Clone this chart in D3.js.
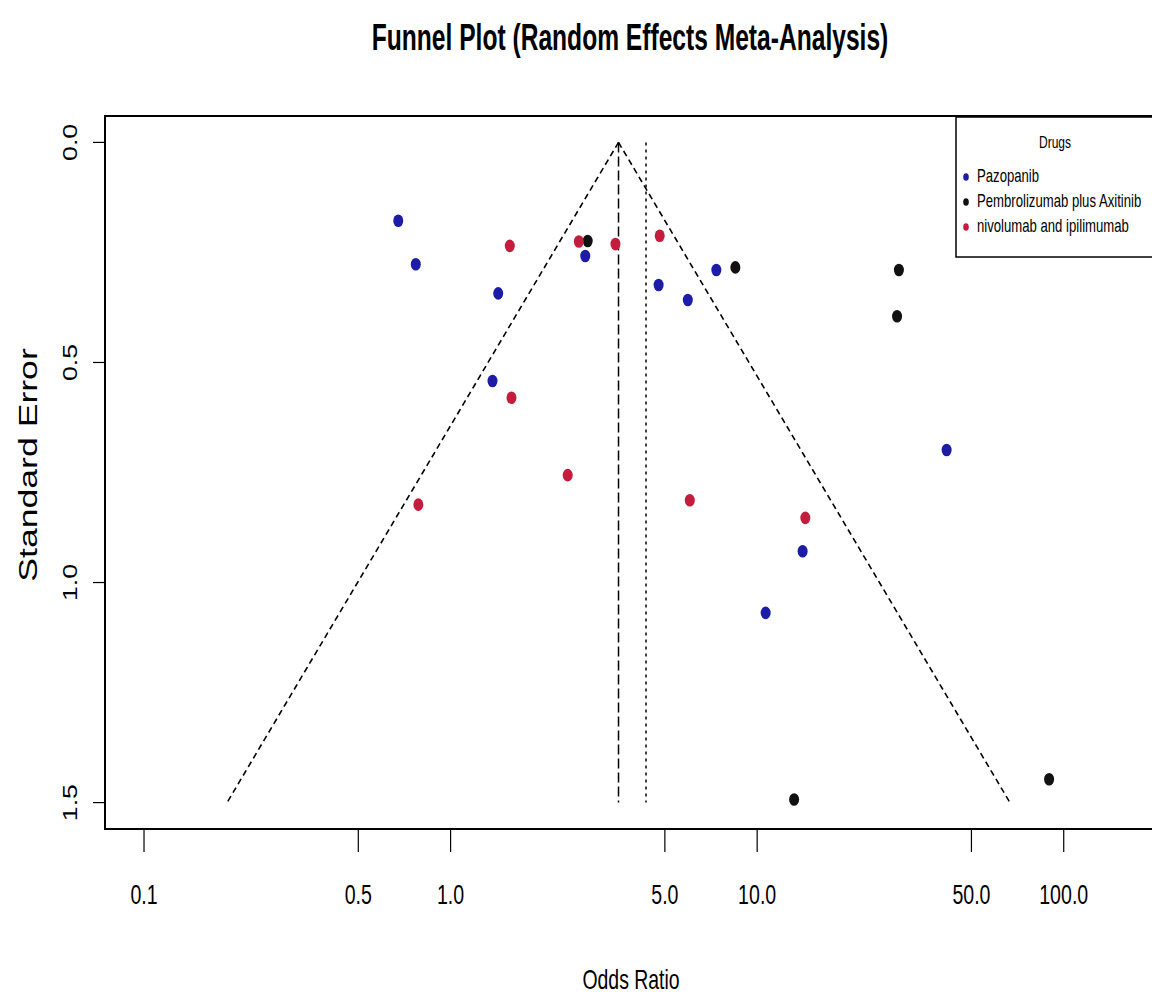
<!DOCTYPE html>
<html>
<head>
<meta charset="utf-8">
<script src="https://cdn.jsdelivr.net/npm/d3@7"></script>
<style>
  html, body { margin: 0; padding: 0; background: #fff; }
  svg { display: block; }
  text { font-family: "Liberation Sans", Arial, sans-serif; fill: #000; }
</style>
</head>
<body>
<svg id="chart" width="1152" height="998"></svg>
<script>
// ---- Data ----
const categories = ["Pazopanib", "Pembrolizumab plus Axitinib", "nivolumab and ipilimumab"];
const colors = ["#1c1ca6", "#111111", "#c41c3c"];

const pazopanibOR = [0.675, 0.77, 1.43, 2.75, 4.77, 5.94, 7.36, 1.37, 14.07, 10.66, 41.5];
const pazopanibSE = [0.178, 0.277, 0.343, 0.258, 0.324, 0.358, 0.290, 0.542, 0.929, 1.069, 0.699];

const pembroOR = [2.80, 8.49, 29.0, 28.6, 13.2, 89.6];
const pembroSE = [0.224, 0.284, 0.290, 0.395, 1.493, 1.447];

const nivoOR = [1.56, 2.62, 3.45, 4.81, 1.58, 2.41, 0.785, 6.03, 14.36];
const nivoSE = [0.235, 0.225, 0.231, 0.212, 0.580, 0.756, 0.823, 0.813, 0.853];

const summaryOR = 3.53;     // random-effects estimate (dashed line / funnel apex)
const refOR = 4.34;         // dotted reference line
const seMax = 1.5;

const xTicks = [0.1, 0.5, 1, 5, 10, 50, 100];
const xTickLabels = ["0.1", "0.5", "1.0", "5.0", "10.0", "50.0", "100.0"];
const yTicks = [0, 0.5, 1, 1.5];
const yTickLabels = ["0.0", "0.5", "1.0", "1.5"];

const title = "Funnel Plot (Random Effects Meta-Analysis)";
const xLabel = "Odds Ratio";
const yLabel = "Standard Error";
const legendTitle = "Drugs";

// ---- Build ----
const groups = [
  { name: categories[0], or: pazopanibOR, se: pazopanibSE, color: colors[0] },
  { name: categories[1], or: pembroOR, se: pembroSE, color: colors[1] },
  { name: categories[2], or: nivoOR, se: nivoSE, color: colors[2] }
];
const points = [];
groups.forEach(g => g.or.forEach((v, i) => points.push({ or: v, se: g.se[i], color: g.color })));

const svg = d3.select("#chart");
const L = 105, R = 1154, T = 116, B = 829;
const SX = 0.73; // horizontal squeeze of text (picture is stretched vertically)

const x = d3.scaleLog().domain([0.0746, 197]).range([L, R]);
const y = d3.scaleLinear().domain([-0.06, 1.56]).range([T, B]);

function hText(txt, px, py, size, opts = {}) {
  const sx = opts.sx || SX;
  return svg.append("text")
    .attr("transform", `translate(${px},${py}) scale(${sx},1)`)
    .attr("text-anchor", opts.anchor || "middle")
    .attr("font-size", size)
    .attr("font-weight", opts.bold ? "bold" : "normal")
    .text(txt);
}
function vText(txt, px, py, size) {
  return svg.append("text")
    .attr("transform", `translate(${px},${py}) rotate(-90) scale(${1 / SX},1)`)
    .attr("text-anchor", "middle")
    .attr("font-size", size)
    .text(txt);
}

// Title
hText(title, 630, 50, 37, { bold: true, sx: 0.665 });

// Funnel lines
const z = 1.96;
const lo = summaryOR * Math.exp(-z * seMax);
const hi = summaryOR * Math.exp(z * seMax);
svg.append("line")
  .attr("x1", x(summaryOR)).attr("y1", y(0)).attr("x2", x(lo)).attr("y2", y(seMax))
  .attr("stroke", "#000").attr("stroke-width", 1.6).attr("stroke-dasharray", "6,4");
svg.append("line")
  .attr("x1", x(summaryOR)).attr("y1", y(0)).attr("x2", x(hi)).attr("y2", y(seMax))
  .attr("stroke", "#000").attr("stroke-width", 1.6).attr("stroke-dasharray", "6,4");
// Summary dashed vertical
svg.append("line")
  .attr("x1", x(summaryOR)).attr("x2", x(summaryOR)).attr("y1", y(0)).attr("y2", y(seMax))
  .attr("stroke", "#000").attr("stroke-width", 1.5).attr("stroke-dasharray", "10,4");
// Reference dotted vertical
svg.append("line")
  .attr("x1", x(refOR)).attr("x2", x(refOR)).attr("y1", y(0)).attr("y2", y(seMax))
  .attr("stroke", "#000").attr("stroke-width", 1.5).attr("stroke-dasharray", "3,4");

// Points
svg.append("g").selectAll("ellipse").data(points).join("ellipse")
  .attr("cx", d => x(d.or)).attr("cy", d => y(d.se))
  .attr("rx", 5).attr("ry", 6.3)
  .attr("fill", d => d.color);

// Plot box
svg.append("rect")
  .attr("x", L).attr("y", T).attr("width", R - L).attr("height", B - T)
  .attr("fill", "none").attr("stroke", "#000").attr("stroke-width", 2);

// X axis ticks + labels
const xg = svg.append("g");
xTicks.forEach((t, i) => {
  xg.append("line").attr("x1", x(t)).attr("x2", x(t)).attr("y1", B).attr("y2", B + 23)
    .attr("stroke", "#000").attr("stroke-width", 1.2);
});
xTicks.forEach((t, i) => hText(xTickLabels[i], x(t), 904, 28, { sx: 0.7 }));
hText(xLabel, 631, 989, 27, { sx: 0.72 });

// Y axis ticks + labels
yTicks.forEach((t, i) => {
  svg.append("line").attr("x1", L - 12).attr("x2", L).attr("y1", y(t)).attr("y2", y(t))
    .attr("stroke", "#000").attr("stroke-width", 1.2);
  vText(yTickLabels[i], 77, y(t), 19.5);
});
vText(yLabel, 37, 465, 26);

// Legend
const lgX = 956, lgY = 117, lgW = 198, lgH = 140;
svg.append("rect").attr("x", lgX).attr("y", lgY).attr("width", lgW).attr("height", lgH)
  .attr("fill", "#fff").attr("stroke", "#000").attr("stroke-width", 1.5);
hText(legendTitle, 1055, 148, 16.5);
categories.forEach((c, i) => {
  const by = 182 + i * 25;
  svg.append("ellipse").attr("cx", 966).attr("cy", by - 5).attr("rx", 2.8).attr("ry", 3.8)
    .attr("fill", colors[i]);
  hText(c, 977, by, 18, { anchor: "start" });
});
</script>
</body>
</html>
